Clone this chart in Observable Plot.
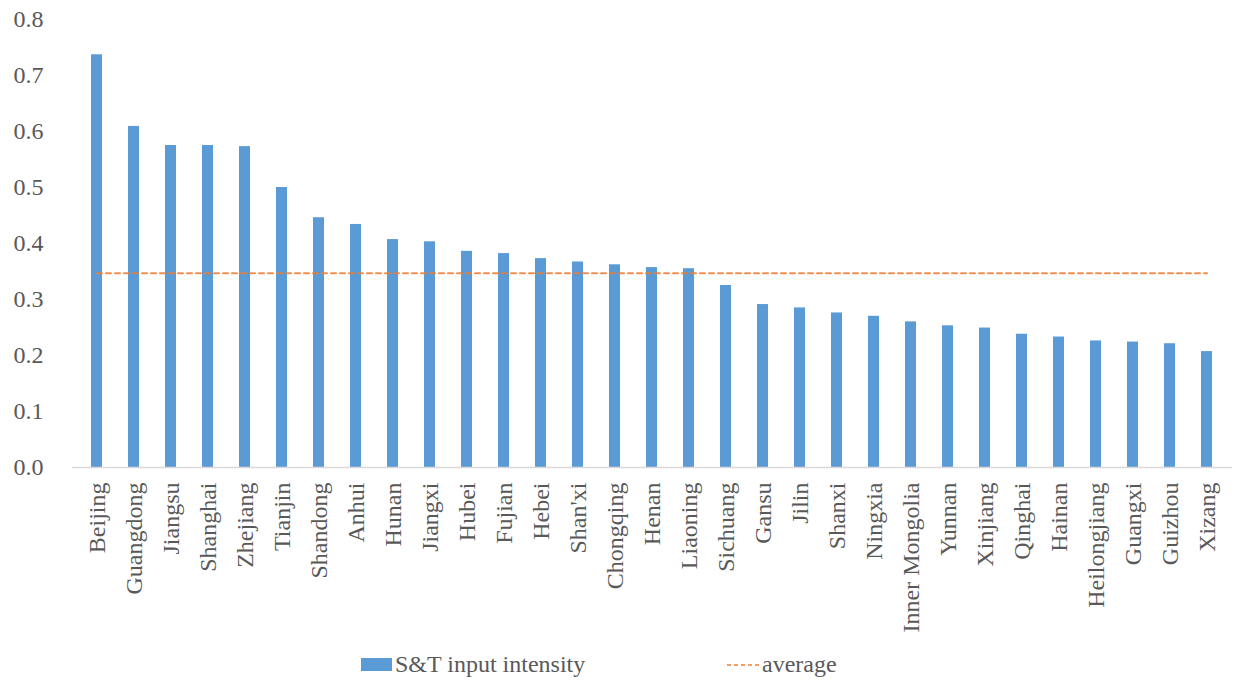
<!DOCTYPE html>
<html>
<head>
<meta charset="utf-8">
<script src="https://cdn.jsdelivr.net/npm/d3@7"></script>
<script src="https://cdn.jsdelivr.net/npm/@observablehq/plot@0.6"></script>
<style>
  html, body { margin: 0; padding: 0; background: #fff; }
  #wrap { position: relative; width: 1238px; height: 682px; font-family: 'Liberation Serif', 'Times New Roman', Tinos, 'Nimbus Roman', 'Noto Serif', 'DejaVu Serif', serif; color: #595959; }
  #chart svg { display: block; }
  #chart svg text { font-family: 'Liberation Serif', 'Times New Roman', Tinos, 'Nimbus Roman', 'Noto Serif', 'DejaVu Serif', serif; }
  .leg { position: absolute; font-size: 24px; line-height: 24px; white-space: nowrap; }
</style>
</head>
<body>
<div id="wrap">
  <div id="chart"></div>
  <div id="legend"></div>
</div>
<script>
const provinces = ["Beijing","Guangdong","Jiangsu","Shanghai","Zhejiang","Tianjin","Shandong","Anhui","Hunan","Jiangxi","Hubei","Fujian","Hebei","Shan'xi","Chongqing","Henan","Liaoning","Sichuang","Gansu","Jilin","Shanxi","Ningxia","Inner Mongolia","Yunnan","Xinjiang","Qinghai","Hainan","Heilongjiang","Guangxi","Guizhou","Xizang"];
const intensity = [0.737,0.609,0.575,0.575,0.573,0.500,0.446,0.434,0.407,0.403,0.386,0.382,0.373,0.367,0.362,0.357,0.355,0.325,0.291,0.285,0.276,0.270,0.260,0.253,0.249,0.238,0.233,0.226,0.224,0.221,0.207];
const average = 0.347;
const yTicks = [0,0.1,0.2,0.3,0.4,0.5,0.6,0.7,0.8];
const seriesNames = ["S&T input intensity","average"];

const barColor = "#5b9bd5";
const avgColor = "#ed7d31";
const fontStack = "'Liberation Serif', 'Times New Roman', Tinos, 'Nimbus Roman', 'Noto Serif', 'DejaVu Serif', serif";

const bars = provinces.map((p, i) => ({province: p, value: intensity[i]}));
const avgLine = provinces.map(p => ({province: p, value: average}));

const chart = Plot.plot({
  width: 1238,
  height: 650,
  marginTop: 19,
  marginBottom: 183,
  marginLeft: 72,
  marginRight: 6,
  style: {fontFamily: fontStack, fontSize: "24px", color: "#595959", background: "#fff"},
  x: {domain: provinces, paddingInner: 0.69, paddingOuter: 0.345, label: null},
  y: {domain: [0, 0.8], label: null},
  marks: [
    Plot.barY(bars, {x: "province", y: "value", fill: barColor}),
    Plot.ruleY([0], {stroke: "#d9d9d9", strokeWidth: 1.3}),
    Plot.lineY(avgLine, {x: "province", y: "value", stroke: avgColor, strokeOpacity: 0.85, strokeWidth: 2, strokeDasharray: "5,4"}),
    Plot.axisY({ticks: yTicks, tickFormat: d3.format(".1f"), tickSize: 0, tickPadding: 29, label: null, fontSize: 24}),
    Plot.axisX({tickSize: 0, tickPadding: 15, tickRotate: -90, label: null, fontSize: 24})
  ]
});
document.getElementById("chart").appendChild(chart);

const legend = document.getElementById("legend");
legend.innerHTML = `
  <div class="leg" style="left:361px; top:658px; width:31px; height:13px; background:${barColor};"></div>
  <div class="leg" style="left:395px; top:652px;">${seriesNames[0].replace("&","&amp;")}</div>
  <svg class="leg" style="left:727px; top:663px;" width="32" height="4"><line x1="0" y1="2" x2="32" y2="2" stroke="${avgColor}" stroke-width="1.6" stroke-dasharray="4,3"/></svg>
  <div class="leg" style="left:762px; top:652px;">${seriesNames[1]}</div>
`;
</script>
</body>
</html>
